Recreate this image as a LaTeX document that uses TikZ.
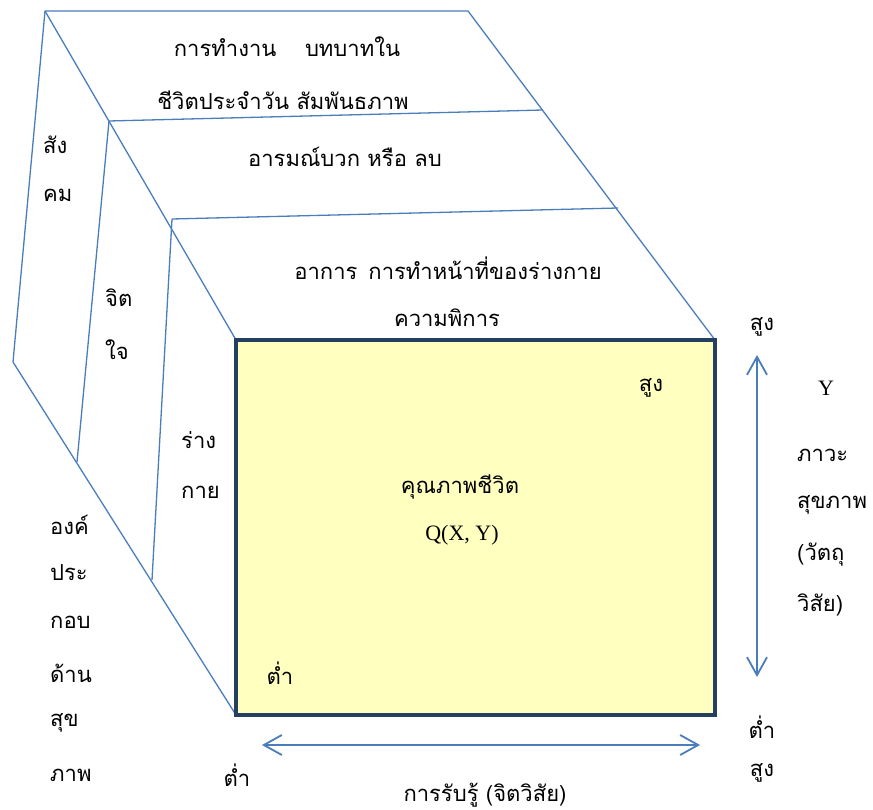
\documentclass[tikz,border=0pt]{standalone}
\usepackage{fontspec}
\setmainfont{Liberation Serif}
\newfontfamily\thai[Script=Thai]{Loma}
\usetikzlibrary{arrows.meta}
\definecolor{edgeblue}{HTML}{4A7EBB}
\definecolor{boxnavy}{HTML}{243F60}
\definecolor{boxfill}{HTML}{FFFFC0}
\tikzset{
  face/.style={draw=edgeblue, line width=1.3pt, line join=round},
  lbl/.style={font=\thai\fontsize{22}{24}\selectfont, inner sep=0pt, anchor=center},
  lblw/.style={lbl, anchor=west},
  lat/.style={font=\fontsize{22}{24}\selectfont, inner sep=0pt, anchor=center},
  axis/.style={draw=edgeblue, line width=1.8pt, {Straight Barb[length=18pt,width=20pt,line width=1.8pt]}-{Straight Barb[length=18pt,width=20pt,line width=1.8pt]}}
}
\begin{document}
\begin{tikzpicture}[x=1pt,y=-1pt]
\useasboundingbox (0,0) rectangle (873,810);
% corner coordinates
\coordinate (tl) at (45,11);
\coordinate (tr) at (468,11);
\coordinate (bl) at (13,362);
\coordinate (a1) at (109,121);
\coordinate (a2) at (543,110);
\coordinate (b1) at (172,219);
\coordinate (b2) at (618,208);
\coordinate (c1) at (77,462);
\coordinate (c2) at (152,580);
\coordinate (q1) at (236,340);
\coordinate (q2) at (715,340);
\coordinate (q3) at (715,715);
\coordinate (q4) at (236,715);
% faces
\draw[face] (q4) -- (bl) -- (tl) -- (tr) -- (q2);
\draw[face] (tl) -- (q1);
\draw[face] (a1) -- (a2);
\draw[face] (b1) -- (b2);
\draw[face] (a1) -- (c1);
\draw[face] (b1) -- (c2);
% quality box
\draw[draw=boxnavy, fill=boxfill, line width=4pt] (q1) rectangle (q3);
% axes
\coordinate (vy1) at (757,355);
\coordinate (vy2) at (757,677);
\coordinate (hx1) at (262,745);
\coordinate (hx2) at (700,745);
\draw[axis] (vy1) -- (vy2);
\draw[axis] (hx1) -- (hx2);
% top face labels
\node[lbl] (t1) at (287,47) {การทำงาน\hspace{1.3em}บทบาทใน};
\node[lbl] (t2) at (283,100) {ชีวิตประจำวัน สัมพันธภาพ};
\node[lbl] (t3) at (345,157) {อารมณ์บวก หรือ ลบ};
\node[lbl] (t4) at (448,268) {อาการ\enspace การทำหน้าที่ของร่างกาย};
\node[lbl] (t5) at (447,318) {ความพิการ};
% side labels
\node[lblw] (s1) at (43,145) {สัง};
\node[lblw] (s2) at (43,195) {คม};
\node[lblw] (m1) at (105,298) {จิต};
\node[lblw] (m2) at (105,350) {ใจ};
\node[lblw] (p1) at (181,440) {ร่าง};
\node[lblw] (p2) at (181,492) {กาย};
\node[lblw] (h1) at (50,525) {องค์};
\node[lblw] (h2) at (50,573) {ประ};
\node[lblw] (h3) at (50,622) {กอบ};
\node[lblw] (h4) at (50,673) {ด้าน};
\node[lblw] (h5) at (50,723) {สุข};
\node[lblw] (h6) at (50,775) {ภาพ};
% box labels
\node[lbl] (lo) at (280,673) {ต่ำ};
\node[lbl] (hi) at (651,388) {สูง};
\node[lbl] (ql) at (460,487) {คุณภาพชีวิต};
\node[lat] (qf) at (462,535) {Q(X, Y)};
% right labels
\node[lbl] (r1) at (762,327) {สูง};
\node[lat] (ry) at (826,388) {Y};
\node[lblw] (r2) at (797,455) {ภาวะ};
\node[lblw] (r3) at (797,505) {สุขภาพ};
\node[lblw] (r4) at (797,555) {(วัตถุ};
\node[lblw] (r5) at (797,605) {วิสัย)};
\node[lbl] (r6) at (762,727) {ต่ำ};
\node[lbl] (r7) at (762,773) {สูง};
% bottom labels
\node[lbl] (b0) at (237,775) {ต่ำ};
\node[lbl] (bx) at (485,795) {การรับรู้ (จิตวิสัย)};
\end{tikzpicture}
\end{document}
